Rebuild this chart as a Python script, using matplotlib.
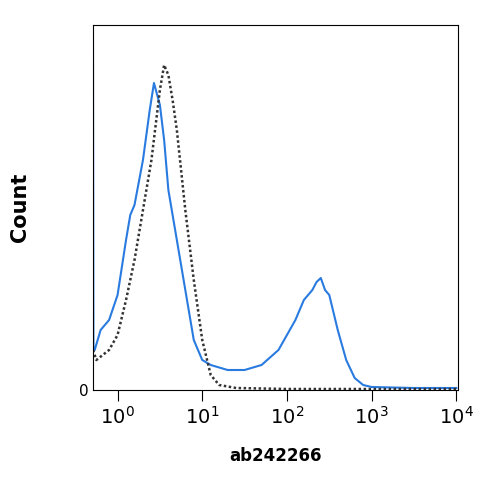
import numpy as np
import matplotlib
matplotlib.use("Agg")
import matplotlib.pyplot as plt

blue_logx = [-0.29,-0.285,-0.27,-0.2,-0.1,0.0,0.1,0.15,0.2,0.3,0.38,0.43,0.5,0.55,0.6,0.7,0.8,0.9,1.0,1.1,1.3,1.5,1.7,1.9,2.0,2.1,2.2,2.3,2.35,2.4,2.45,2.5,2.6,2.7,2.8,2.9,3.0,3.5,4.0]
blue_y = [350,40,40,60,70,95,150,175,185,230,280,307,285,250,200,150,100,50,30,25,20,20,25,40,55,70,90,100,108,112,100,95,60,30,12,5,3,2,2]
dot_logx = [-0.29,-0.25,-0.1,0.0,0.1,0.2,0.3,0.4,0.5,0.55,0.6,0.65,0.7,0.8,0.9,1.0,1.1,1.2,1.4,2.0,4.0]
dot_y = [40,30,40,55,90,130,180,230,300,325,315,290,260,180,110,50,15,5,2,1,1]

fig = plt.figure(figsize=(5.04,5.0), dpi=100)
ax = fig.add_axes([93/504, 110/500, 365/504, 365/500])
ax.plot(10**np.array(blue_logx), blue_y, color='#2a7be0', lw=1.5)
ax.plot(10**np.array(dot_logx), dot_y, color='#333333', lw=1.8, ls=(0,(1,1)))
ax.set_xscale('log')
ax.set_xlim(10**-0.29, 10**4.02)
ax.set_ylim(0, 365)
ax.set_yticks([0]); ax.set_yticklabels(['0'])
ax.set_xticks([1,10,100,1000,10000])
ax.set_xticklabels([r'$10^0$', r'$10^1$', r'$10^2$', r'$10^3$', r'$10^4$'], fontsize=14)
ax.minorticks_off()
ax.tick_params(axis='x', which='major', length=8, direction='out')
ax.tick_params(axis='y', length=0, labelsize=11)
ax.set_ylabel('Count', fontsize=15, fontweight='bold', labelpad=35)
ax.set_xlabel('ab242266', fontsize=12, fontweight='bold', labelpad=14)
fig.savefig('out.png', dpi=100)
